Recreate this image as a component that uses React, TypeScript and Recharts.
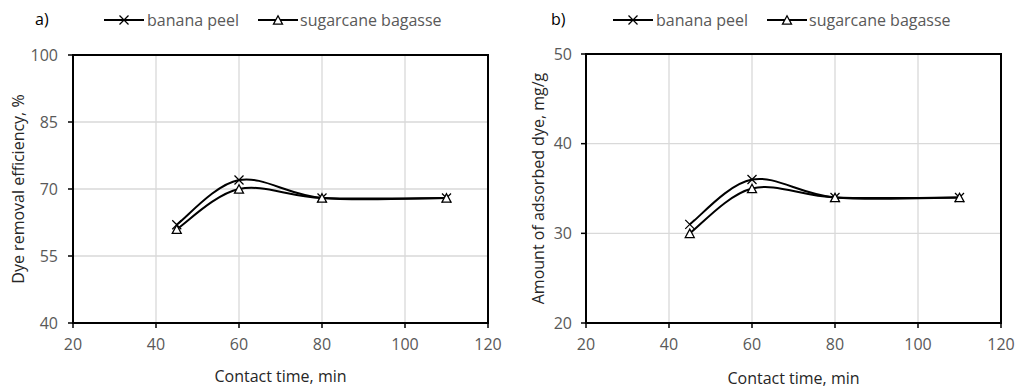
import React from 'react';
import { LineChart, Line, XAxis, YAxis, CartesianGrid, ReferenceArea } from 'recharts';

const contactTime = [45, 60, 80, 110];
const removalBanana = [62, 72, 68, 68];
const removalBagasse = [61, 70, 68, 68];
const adsorbedBanana = [31, 36, 34, 34];
const adsorbedBagasse = [30, 35, 34, 34];
const xTicks = [20, 40, 60, 80, 100, 120];
const yTicksA = [40, 55, 70, 85, 100];
const yTicksB = [20, 30, 40, 50];
const seriesNames = ['banana peel', 'sugarcane bagasse'];

const FONT = '"Open Sans", sans-serif';
const TICK_COLOR = '#595959';
const FS = 16;

// Excel-like smoothed line (Catmull-Rom through the points)
const excelSmooth = (context: any) => {
  let pts: number[][] = [];
  return {
    areaStart() {},
    areaEnd() {},
    lineStart() {
      pts = [];
    },
    point(x: number, y: number) {
      pts.push([+x, +y]);
    },
    lineEnd() {
      if (!pts.length) return;
      context.moveTo(pts[0][0], pts[0][1]);
      for (let i = 0; i < pts.length - 1; i++) {
        const p0 = pts[i - 1] || pts[i];
        const p1 = pts[i];
        const p2 = pts[i + 1];
        const p3 = pts[i + 2] || p2;
        context.bezierCurveTo(
          p1[0] + (p2[0] - p0[0]) / 6,
          p1[1] + (p2[1] - p0[1]) / 6,
          p2[0] - (p3[0] - p1[0]) / 6,
          p2[1] - (p3[1] - p1[1]) / 6,
          p2[0],
          p2[1]
        );
      }
    },
  };
};

const CrossDot = (props: any) => {
  const { cx, cy } = props;
  if (cx == null || cy == null) return null;
  const s = 4.5;
  return (
    <g>
      <line x1={cx - s} y1={cy - s} x2={cx + s} y2={cy + s} stroke="#000" strokeWidth={1.3} />
      <line x1={cx - s} y1={cy + s} x2={cx + s} y2={cy - s} stroke="#000" strokeWidth={1.3} />
    </g>
  );
};

const TriangleDot = (props: any) => {
  const { cx, cy } = props;
  if (cx == null || cy == null) return null;
  const w = 4.5;
  const h = 4.2;
  return (
    <polygon
      points={`${cx},${cy - h} ${cx + w},${cy + h} ${cx - w},${cy + h}`}
      fill="#fff"
      stroke="#000"
      strokeWidth={1.3}
    />
  );
};

const LegendBlock = ({ left }: { left: number }) => (
  <div
    style={{
      position: 'absolute',
      left,
      top: 11,
      display: 'flex',
      alignItems: 'center',
      fontFamily: FONT,
      fontSize: 16,
      lineHeight: '18px',
      color: TICK_COLOR,
      whiteSpace: 'nowrap',
    }}
  >
    <svg width={40} height={14}>
      <line x1={0} y1={7} x2={40} y2={7} stroke="#000" strokeWidth={2} />
      <CrossDot cx={20} cy={7} />
    </svg>
    <span style={{ marginLeft: 3, marginRight: 19 }}>{seriesNames[0]}</span>
    <svg width={40} height={14}>
      <line x1={0} y1={7} x2={40} y2={7} stroke="#000" strokeWidth={2} />
      <TriangleDot cx={20} cy={7} />
    </svg>
    <span style={{ marginLeft: 2 }}>{seriesNames[1]}</span>
  </div>
);

type PanelProps = {
  left: number;
  width: number;
  top: number;
  right: number;
  yAxisWidth: number;
  yTicks: number[];
  bananaValues: number[];
  bagasseValues: number[];
  yLabel: string;
  yLabelDx: number;
  xLabelOffset: number;
  panelTag: string;
  tagLeft: number;
  legendLeft: number;
  yTickMargin: number;
};

const Panel = (p: PanelProps) => {
  const data = contactTime.map((t, i) => ({ t, banana: p.bananaValues[i], bagasse: p.bagasseValues[i] }));
  const yMin = p.yTicks[0];
  const yMax = p.yTicks[p.yTicks.length - 1];
  return (
    <div style={{ position: 'absolute', left: p.left, top: 0, width: p.width, height: 388 }}>
      <LineChart width={p.width} height={388} data={data} margin={{ top: p.top, right: p.right, bottom: 0, left: 0 }}>
        <CartesianGrid stroke="#d9d9d9" strokeWidth={1.3} />
        <XAxis
          dataKey="t"
          type="number"
          domain={[20, 120]}
          ticks={xTicks}
          height={65}
          tickSize={5}
          tickMargin={11}
          axisLine={{ stroke: '#000', strokeWidth: 2 }}
          tickLine={{ stroke: '#000', strokeWidth: 1.5 }}
          tick={{ fill: TICK_COLOR, fontSize: FS, fontFamily: FONT }}
          interval={0}
          label={{ value: 'Contact time, min', position: 'insideBottom', offset: p.xLabelOffset, fill: '#262626', fontSize: FS, fontFamily: FONT }}
        />
        <YAxis
          type="number"
          domain={[yMin, yMax]}
          ticks={p.yTicks}
          width={p.yAxisWidth}
          tickSize={5}
          tickMargin={p.yTickMargin}
          axisLine={{ stroke: '#000', strokeWidth: 2 }}
          tickLine={{ stroke: '#000', strokeWidth: 1.5 }}
          tick={{ fill: TICK_COLOR, fontSize: FS, fontFamily: FONT }}
          interval={0}
          label={{ value: p.yLabel, angle: -90, position: 'center', dx: p.yLabelDx, fill: '#262626', fontSize: FS, fontFamily: FONT }}
        />
        <ReferenceArea x1={20} x2={120} y1={yMin} y2={yMax} fill="none" stroke="#000" strokeWidth={2} ifOverflow="visible" />
        <Line
          dataKey="banana"
          name={seriesNames[0]}
          type={excelSmooth as any}
          stroke="#000"
          strokeWidth={2}
          dot={<CrossDot />}
          activeDot={false}
          isAnimationActive={false}
        />
        <Line
          dataKey="bagasse"
          name={seriesNames[1]}
          type={excelSmooth as any}
          stroke="#000"
          strokeWidth={2}
          dot={<TriangleDot />}
          activeDot={false}
          isAnimationActive={false}
        />
      </LineChart>
      <div style={{ position: 'absolute', left: p.tagLeft, top: 10, fontFamily: FONT, fontSize: 16, lineHeight: '18px', color: '#000' }}>
        {p.panelTag}
      </div>
      <LegendBlock left={p.legendLeft} />
    </div>
  );
};

export default function App() {
  return (
    <div style={{ position: 'absolute', left: 0, top: 0, width: 1017, height: 388, background: '#fff', overflow: 'hidden' }}>
      <Panel
        left={0}
        width={515}
        top={55}
        right={27}
        yAxisWidth={73}
        yTicks={yTicksA}
        bananaValues={removalBanana}
        bagasseValues={removalBagasse}
        yLabel="Dye removal efficiency, %"
        yLabelDx={-18}
        xLabelOffset={6}
        panelTag="a)"
        tagLeft={35}
        legendLeft={104}
        yTickMargin={10}
      />
      <Panel
        left={500}
        width={517}
        top={54}
        right={16}
        yAxisWidth={86}
        yTicks={yTicksB}
        bananaValues={adsorbedBanana}
        bagasseValues={adsorbedBagasse}
        yLabel="Amount of  adsorbed dye, mg/g"
        yLabelDx={-5}
        xLabelOffset={4}
        panelTag="b)"
        tagLeft={51}
        legendLeft={113}
        yTickMargin={9}
      />
    </div>
  );
}
